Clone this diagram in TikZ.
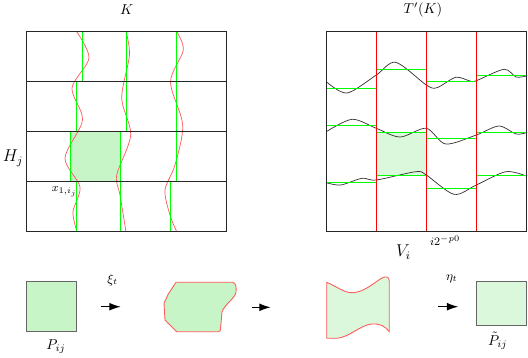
\documentclass[tikz,border=0pt]{standalone}
\usepackage[]{xcolor}
\usetikzlibrary{arrows.meta}
\definecolor{shadeA}{RGB}{200,245,200}
\definecolor{shadeB}{RGB}{220,248,220}
\tikzset{gridline/.style={draw=black!85,line width=1.1pt},
  greenline/.style={draw=green,line width=1pt},
  redline/.style={draw=red,line width=0.75pt},
  wavyred/.style={draw=red!65,line width=0.5pt},
  wavyblack/.style={draw=black!80,line width=0.5pt},
  sqnode/.style={draw=black!60,line width=0.6pt,inner sep=0pt},
  blob/.style={draw=red!65,line width=0.6pt},
  lbl/.style={inner sep=1pt},
  myarrow/.style={-{Latex[length=8pt,width=5.5pt]},line width=0.8pt}
}

\begin{document}
\begin{tikzpicture}[x=0.7pt,y=-0.7pt]
  \useasboundingbox (0,0) rectangle (528,357);

  % Left grid: K
    \fill[shadeA] (70.5,131.5) rectangle (120.5,181.5);
    \draw[wavyred] plot[smooth] coordinates {(76.7,31.7) (89,58) (72,88) (82.5,120) (65,158) (80,187) (73,212) (77,231.7)};
    \draw[wavyred] plot[smooth] coordinates {(126,31.7) (129.5,55) (121.7,98) (130.7,135) (116.7,175) (120,195) (126,231.7)};
    \draw[wavyred] plot[smooth] coordinates {(176.7,31.7) (183.3,50) (170.5,82) (182.7,125) (175,165) (165,190) (170,215) (176.7,231.7)};
    \foreach \x in {82.5,126.5,176.5} \draw[greenline] (\x,31.5) -- (\x,81.5);
    \foreach \x in {76.5,126.5,176.5} \draw[greenline] (\x,81.5) -- (\x,131.5);
    \foreach \x in {70.5,120.5,176.5} \draw[greenline] (\x,131.5) -- (\x,181.5);
    \foreach \x in {76.5,120.5,170.5} \draw[greenline] (\x,181.5) -- (\x,231.5);
    \foreach \y in {81.5,131.5,181.5} \draw[gridline] (26.5,\y) -- (226.5,\y);
    \draw[gridline] (26.5,31.5) rectangle (226.5,231.5);

    \node[lbl] (K) at (126.7,9.5) {$K$};
    \node[lbl, font=\large] (Hj) at (13,158) {$H_j$};
    \node[lbl, font=\footnotesize] (x1) at (64.5,192) {$x_{1,i_j}$};

  % Right grid: T'(K)
    \fill[shadeB] (376.5,132.5) rectangle (426.5,175.5);
    \draw[wavyblack] plot[smooth] coordinates {(326.3,81.7) (347,93) (376.3,75) (395.7,62.3) (426.3,85) (437,87.7) (455.7,77.3) (470,81) (476.3,80.7) (504,69.3) (516,77) (526.3,76)};
    \draw[wavyblack] plot[smooth] coordinates {(326.3,131.7) (352,119.3) (376.3,128.3) (400,137) (426.3,128.3) (445.7,144) (476.3,135) (499,126) (516,134) (526.3,132.7)};
    \draw[wavyblack] plot[smooth] coordinates {(326.3,182.7) (340.7,185) (362,178.3) (376.3,180) (415.7,171.7) (426.3,175) (454,194.3) (476.3,185) (505.7,171.7) (526.3,176)};
    \foreach \y in {88.5,125.5,182.5} \draw[greenline] (326.5,\y) -- (376.5,\y);
    \foreach \y in {69.5,132.5,175.5} \draw[greenline] (376.5,\y) -- (426.5,\y);
    \foreach \y in {81.5,138.5,188.5} \draw[greenline] (426.5,\y) -- (476.5,\y);
    \foreach \y in {75.5,132.5,175.5} \draw[greenline] (476.5,\y) -- (526.5,\y);
    \foreach \x in {376.5,426.5,476.5} \draw[redline] (\x,31.5) -- (\x,231.5);
    \draw[gridline] (326.5,31.5) rectangle (526.5,231.5);

    \node[lbl] (TK) at (423,10) {$T'(K)$};
    \node[lbl, font=\footnotesize] (ip) at (445,241) {$i2^{-p0}$};
    \node[lbl, font=\large] (Vi) at (403.5,252) {$V_i$};

  % Bottom row
    \node[sqnode, fill=shadeA, minimum width=35.5pt, minimum height=35pt] (sq1) at (51.3,306.7) {};
    \node[lbl] (P) at (56,347) {$P_{ij}$};

    \draw[blob, fill=shadeA] (176,282.3) -- (232.7,282.3) .. controls (236,283) and (236.5,287) .. (236,292)
      .. controls (235.5,298) and (224,305) .. (222,312) -- (220.5,329) .. controls (220.3,331) .. (218.3,331.7)
      -- (176.7,331.7) -- (165,320) -- (164,303.3) -- (168.3,294) -- cycle;

    \draw[blob, fill=shadeB] (326.7,282.3) .. controls (338,287) and (344,293) .. (353,292.7)
      .. controls (364,292) and (374,283) .. (381,278.5) .. controls (385,276) and (389.3,276) .. (389.3,281)
      -- (389.3,331.7) .. controls (385,326) and (380,323.5) .. (372,324)
      .. controls (360,325) and (350,337) .. (337,338.3) -- (326.7,338.3) -- cycle;

    \node[sqnode, fill=shadeB, minimum width=35.5pt, minimum height=30.8pt] (sq2) at (501.3,303.7) {};
    \node[lbl] (Pt) at (497.7,341) {$\tilde{P}_{ij}$};

    % Arrows
    \coordinate (a1) at (100.7,306.7);
    \coordinate (b1) at (120.7,306.7);
    \coordinate (a2) at (251.7,307.3);
    \coordinate (b2) at (270.7,307.3);
    \coordinate (a3) at (438.3,306.7);
    \coordinate (b3) at (458.3,306.7);
    \draw[myarrow] (a1) -- (b1);
    \draw[myarrow] (a2) -- (b2);
    \draw[myarrow] (a3) -- (b3);
    \node[lbl, font=\small] (xi) at (112.7,280) {$\xi_t$};
    \node[lbl, font=\small] (eta) at (451.7,279) {$\eta_t$};

  \end{tikzpicture}
\end{document}
